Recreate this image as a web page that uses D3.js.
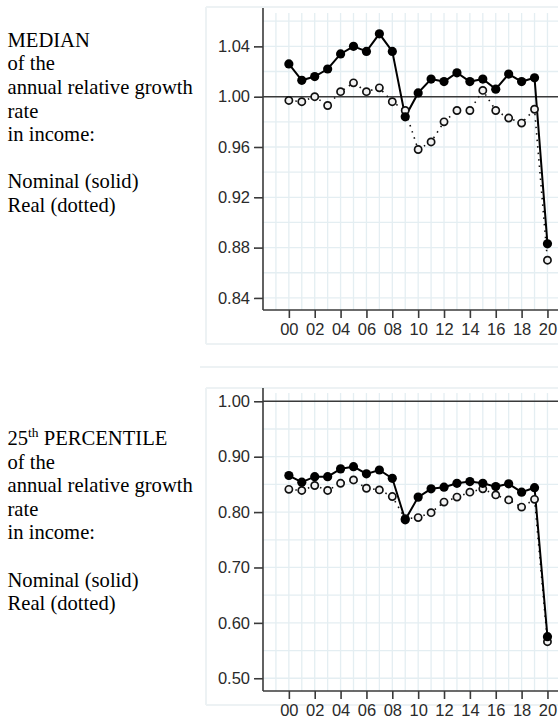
<!DOCTYPE html>
<html><head><meta charset="utf-8">
<script src="https://cdn.jsdelivr.net/npm/d3@7"></script>
<style>
html,body{margin:0;padding:0;background:#fff;}
svg{display:block;}
</style>
</head><body>
<svg id="c" width="558" height="723"></svg>
<script>
// ---- data ----
const years = [0,1,2,3,4,5,6,7,8,9,10,11,12,13,14,15,16,17,18,19,20];
const xTickLabels = ["00","02","04","06","08","10","12","14","16","18","20"];
const medianNominal = [1.026,1.013,1.016,1.022,1.034,1.040,1.036,1.050,1.036,0.984,1.003,1.014,1.012,1.019,1.012,1.014,1.006,1.018,1.012,1.015,0.883];
const medianReal    = [0.997,0.996,1.000,0.993,1.004,1.011,1.004,1.007,0.996,0.989,0.958,0.964,0.980,0.989,0.989,1.005,0.989,0.983,0.979,0.990,0.870];
const p25Nominal = [0.866,0.854,0.864,0.864,0.878,0.882,0.869,0.876,0.861,0.786,0.827,0.842,0.845,0.852,0.855,0.852,0.846,0.851,0.836,0.844,0.575];
const p25Real    = [0.841,0.839,0.848,0.839,0.852,0.858,0.843,0.840,0.828,0.788,0.790,0.799,0.818,0.827,0.836,0.842,0.831,0.822,0.809,0.823,0.566];
const medianYTicks = [0.84,0.88,0.92,0.96,1.00,1.04];
const p25YTicks = [0.50,0.60,0.70,0.80,0.90,1.00];
const medianText = ["MEDIAN","of the","annual relative growth","rate","in income:","","Nominal (solid)","Real (dotted)"];
const p25Text = ["PERCENTILE","of the","annual relative growth","rate","in income:","","Nominal (solid)","Real (dotted)"];

const svg = d3.select("#c");
const gridColor = "#e4eef2";
const borderColor = "#edf2f4";
const axisColor = "#3a3a3a";

function panel(cfg){
  const g = svg.append("g");
  const x = d3.scaleLinear().domain([-2,21]).range([263, 263+23*12.93]);
  const y = d3.scaleLinear().domain(cfg.ydomain).range([cfg.bottom, cfg.top]);
  // panel border
  g.append("line").attr("x1",206).attr("x2",558).attr("y1",cfg.boxTop).attr("y2",cfg.boxTop).attr("stroke",borderColor).attr("stroke-width",2);
  g.append("line").attr("x1",206).attr("x2",206).attr("y1",cfg.boxTop).attr("y2",cfg.boxBottom).attr("stroke",borderColor).attr("stroke-width",2);
  g.append("line").attr("x1",206).attr("x2",558).attr("y1",cfg.boxBottom).attr("y2",cfg.boxBottom).attr("stroke",borderColor).attr("stroke-width",2);
  // grid
  const vgrid = d3.range(-1,22);
  g.append("g").selectAll("line").data(vgrid).join("line")
    .attr("x1",d=>x(d)).attr("x2",d=>x(d)).attr("y1",cfg.top+5).attr("y2",cfg.bottom)
    .attr("stroke",gridColor).attr("stroke-width",1.3);
  g.append("g").selectAll("line").data(cfg.hgrid).join("line")
    .attr("x1",263).attr("x2",558).attr("y1",d=>y(d)).attr("y2",d=>y(d))
    .attr("stroke",gridColor).attr("stroke-width",1.3);
  // reference line at 1.00
  g.append("line").attr("x1",263).attr("x2",558).attr("y1",y(1)).attr("y2",y(1))
    .attr("stroke",axisColor).attr("stroke-width",1.6);
  // axes
  const yAxis = d3.axisLeft(y).tickValues(cfg.yticks).tickFormat(d3.format(cfg.fmt)).tickSize(9).tickPadding(4);
  const ya = g.append("g").attr("transform","translate(263,0)").call(yAxis);
  const xAxis = d3.axisBottom(x).tickValues(d3.range(0,21,2)).tickFormat((d,i)=>xTickLabels[i]).tickSize(8).tickPadding(5);
  const xa = g.append("g").attr("transform",`translate(0,${cfg.bottom})`).call(xAxis);
  [ya,xa].forEach(a=>{
    a.select(".domain").attr("stroke",axisColor).attr("stroke-width",1.6);
    a.selectAll(".tick line").attr("stroke",axisColor).attr("stroke-width",1.6);
    a.selectAll("text").attr("fill","#2a2a2a").attr("font-family","'Liberation Sans',Arial,sans-serif").attr("font-size",16.5);
  });
  ya.select(".domain").attr("d",`M-0,${cfg.top}V${cfg.bottom}`);
  xa.select(".domain").attr("d",`M263,0H558`);
  // lines
  const line = d3.line().x((d,i)=>x(years[i])).y(d=>y(d));
  g.append("path").datum(cfg.real).attr("d",line).attr("fill","none")
    .attr("stroke","#111").attr("stroke-width",1.6).attr("stroke-dasharray","1.5,5");
  g.append("path").datum(cfg.nominal).attr("d",line).attr("fill","none")
    .attr("stroke","#000").attr("stroke-width",2);
  g.append("g").selectAll("circle").data(cfg.real).join("circle")
    .attr("cx",(d,i)=>x(years[i])).attr("cy",d=>y(d)).attr("r",3.6)
    .attr("fill","#f2f2f2").attr("stroke","#111").attr("stroke-width",1.7);
  g.append("g").selectAll("circle").data(cfg.nominal).join("circle")
    .attr("cx",(d,i)=>x(years[i])).attr("cy",d=>y(d)).attr("r",4.6)
    .attr("fill","#000");
  // left text
  const t = svg.append("text").attr("font-family","'Liberation Serif','Times New Roman',serif")
    .attr("font-size",20.6).attr("fill","#000");
  cfg.text.forEach((s,i)=>{
    const ts = t.append("tspan").attr("x",7.5).attr("y",cfg.textTop + i*23.6);
    if(i===0 && cfg.sup){
      ts.text(cfg.sup[0]);
      t.append("tspan").attr("dy",-8).attr("font-size",13.5).text(cfg.sup[1]);
      t.append("tspan").attr("dy",8).text(" "+s);
    } else ts.text(s);
  });
}

panel({
  ydomain:[0.8304,1.0705], top:8, bottom:310, boxTop:7, boxBottom:344,
  hgrid:d3.range(0.84,1.07,0.02), yticks:medianYTicks, fmt:".2f",
  nominal:medianNominal, real:medianReal, text:medianText, textTop:46.7
});
panel({
  ydomain:[0.477,1.024], top:388, bottom:691, boxTop:388, boxBottom:705,
  hgrid:d3.range(0.50,1.01,0.05), yticks:p25YTicks, fmt:".2f",
  nominal:p25Nominal, real:p25Real, text:p25Text, textTop:445, sup:["25","th"]
});
svg.append("line").attr("x1",200).attr("x2",558).attr("y1",367).attr("y2",367).attr("stroke",borderColor).attr("stroke-width",2);
</script>
</body></html>
